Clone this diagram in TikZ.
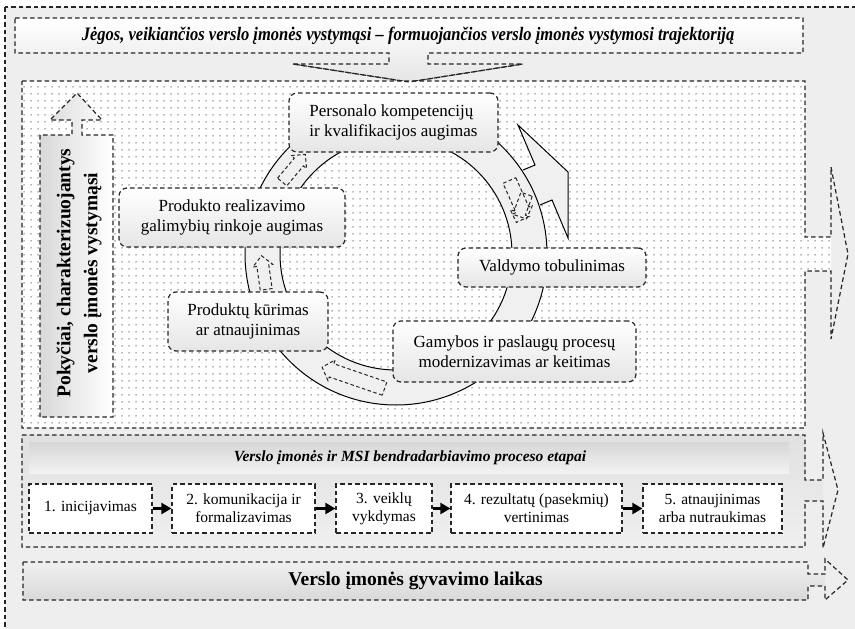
\documentclass[tikz,border=0pt]{standalone}
\usepackage{fontspec}
\setmainfont{Liberation Serif}
\newfontfamily\condserif[FakeStretch=0.87]{Liberation Serif}
\usetikzlibrary{arrows.meta,patterns.meta,calc}
\tikzdeclarepattern{name=pdots,type=uncolored,bounding box={(0pt,0pt) and (7pt,7pt)},tile size={(7pt,7pt)},code={\fill (3.5pt,3.5pt) circle (0.85pt);}}
\newcommand{\smarr}[4]{\draw[smdash, shift={(#1)}, rotate=#2] (-#3,-#4) -- (#3-10,-#4) -- (#3-10,-#4-4) -- (#3,0) -- (#3-10,#4+4) -- (#3-10,#4) -- (-#3,#4) -- cycle;}
\tikzset{
  dsh/.style={dash pattern=on 4.5pt off 3pt, line width=1.2pt, draw=black!85},
  rbox/.style={dsh, rounded corners=8pt, top color=white, bottom color=gray!20, inner sep=0pt, font=\fontsize{17}{19.5}\selectfont, align=center},
  stepbox/.style={dsh, fill=white, inner sep=0pt, font=\fontsize{15.5}{18}\selectfont, align=center, minimum height=49pt},
  ringline/.style={line width=1pt, draw=black},
  smdash/.style={dash pattern=on 3.5pt off 2.5pt, line width=1pt, draw=black!85},
  conn/.style={line width=2.2pt, draw=black, -{Triangle[length=10pt,width=11pt]}},
}
\begin{document}
\begin{tikzpicture}[x=1pt,y=-1pt]
\path[use as bounding box] (0,0) rectangle (855,629);
\clip (0,0) rectangle (855,629);
% outer background
\fill[gray!13] (5,7) rectangle (880,660);
\draw[dsh] (5,7) rectangle (880,660);
% title box with down arrow
\path[dsh, top color=white, bottom color=gray!20] (15,18) -- (803,18) -- (803,53) -- (428,53) -- (428,64) -- (523,64) -- (409,82) -- (293,64) -- (389,64) -- (389,53) -- (15,53) -- cycle;
\node[font=\condserif\bfseries\itshape\fontsize{19}{22}\selectfont] (title) at (408,35.5) {Jėgos, veikiančios verslo įmonės vystymąsi – formuojančios verslo įmonės vystymosi trajektoriją};
% dotted panel
\fill[white] (22,81) -- (805,81) -- (805,237) -- (831,237) -- (831,271) -- (805,271) -- (805,428) -- (22,428) -- cycle;
\fill[pattern=pdots, pattern color=black!60] (22,81) -- (805,81) -- (805,237) -- (831,237) -- (831,271) -- (805,271) -- (805,428) -- (22,428) -- cycle;
\draw[dsh] (22,81) -- (805,81) -- (805,237) -- (831,237) -- (831,167) -- (848,254) -- (831,339) -- (831,271) -- (805,271) -- (805,428) -- (22,428) -- cycle;
% redraw arrow tip over panel
\draw[dsh] (293,64) -- (409,82) -- (523,64);
% left vertical arrow
\path[dsh, left color=gray!30, right color=white] (40,417) -- (40,135) -- (72,135) -- (72,120) -- (50,120) -- (77,93) -- (102,120) -- (82,120) -- (82,135) -- (113,135) -- (113,417) -- cycle;
\node[rotate=90, font=\bfseries\fontsize{19.5}{27}\selectfont, align=center] (ltext) at (79,273) {Pokyčiai, charakterizuojantys\\verslo įmonės vystymąsi};
% ring
\coordinate (c) at (396,254);
\fill[gray!12, even odd rule] (c) circle (151pt) (c) circle (116pt);
\fill[gray!12] (523,170) -- (535,165) -- (518,125) -- (568,172) -- (568,238) -- (552,200) -- (540,205) -- cycle;
\draw[ringline] (523,170) -- (535,165) -- (518,125) -- (568,172) -- (568,238) -- (552,200) -- (540,205);
\draw[ringline] (c) circle (151pt);
\draw[ringline] (c) circle (116pt);
% small dashed arrows along the ring
\smarr{$(c)+(-140:133.5)$}{50}{18}{6}
\smarr{$(c)+(-188:133.5)$}{98}{17}{6}
\smarr{$(c)+(-251:131)$}{161}{33}{7}
\smarr{$(c)+(-24:133.5)$}{-66}{21}{7}
\smarr{$(c)+(-20:133.5)$}{-110}{15}{6}
% boxes on the ring
\node[rbox, align=left, minimum width=209pt, minimum height=59pt] (pers) at (393.5,122.5) {Personalo kompetencijų\\ir kvalifikacijos augimas};
\node[rbox, minimum width=226pt, minimum height=59pt] (real) at (232,217.5) {Produkto realizavimo\\galimybių rinkoje augimas};
\node[rbox, minimum width=160pt, minimum height=59pt] (kur) at (248,321.5) {Produktų kūrimas\\ar atnaujinimas};
\node[rbox, minimum width=188pt, minimum height=39pt] (vald) at (552,267.5) {Valdymo tobulinimas};
\node[rbox, minimum width=243pt, minimum height=61pt] (gam) at (514.5,351.5) {Gamybos ir paslaugų procesų\\modernizavimas ar keitimas};
% bottom panel
\shade[top color=gray!24, bottom color=gray!12] (22,435) -- (805,435) -- (805,480) -- (823,480) -- (823,501) -- (805,501) -- (805,547) -- (22,547) -- cycle;
\draw[dsh] (22,435) -- (805,435) -- (805,480) -- (823,480) -- (823,433) -- (838,490) -- (823,548) -- (823,501) -- (805,501) -- (805,547) -- (22,547) -- cycle;
\shade[top color=gray!32, bottom color=gray!10] (29,442) rectangle (789,473);
\node[font=\bfseries\itshape\fontsize{15.5}{18}\selectfont] (phead) at (410,458) {Verslo įmonės ir MSI bendradarbiavimo proceso etapai};
\node[stepbox, minimum width=123pt] (s1) at (90.5,508.5) {1. inicijavimas};
\node[stepbox, minimum width=143pt] (s2) at (243.5,508.5) {2. komunikacija ir\\formalizavimas};
\node[stepbox, minimum width=96pt] (s3) at (384,508.5) {3. veiklų\\vykdymas};
\node[stepbox, minimum width=171pt] (s4) at (536.5,508.5) {4. rezultatų (pasekmių)\\vertinimas};
\node[stepbox, minimum width=139pt] (s5) at (712.5,508.5) {5. atnaujinimas\\arba nutraukimas};
\draw[conn] (s1) -- (s2);
\draw[conn] (s2) -- (s3);
\draw[conn] (s3) -- (s4);
\draw[conn] (s4) -- (s5);
% life bar
\shade[top color=gray!12, bottom color=gray!30] (23,562) -- (808,562) -- (808,574) -- (825,574) -- (825,586) -- (808,586) -- (808,600) -- (23,600) -- cycle;
\draw[dsh] (23,562) -- (808,562) -- (808,574) -- (825,574) -- (825,559) -- (848,580) -- (825,600) -- (825,586) -- (808,586) -- (808,600) -- (23,600) -- cycle;
\node[font=\bfseries\fontsize{19.5}{22}\selectfont] (life) at (415.5,581) {Verslo įmonės gyvavimo laikas};
\end{tikzpicture}
\end{document}
